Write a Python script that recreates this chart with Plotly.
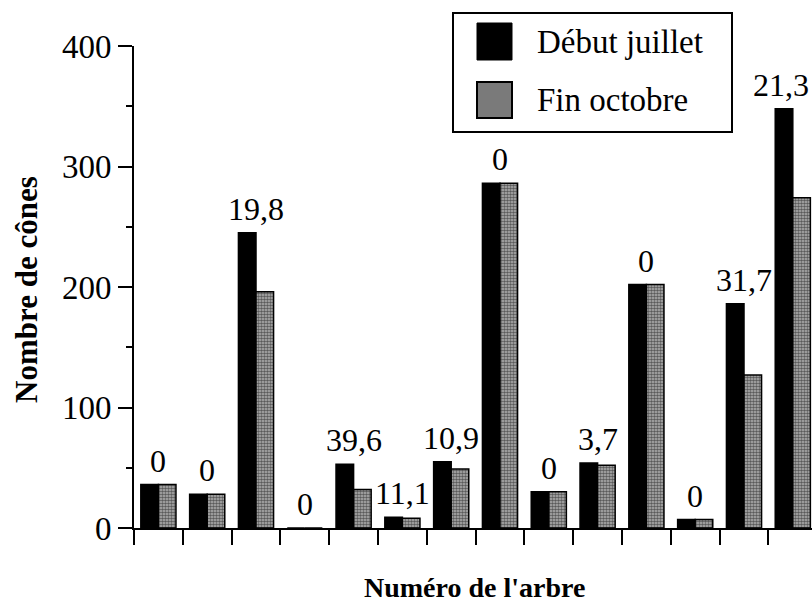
import plotly.graph_objects as go

# Cone counts per tree at two survey dates, with the % loss written above each pair
arbres = list(range(14))
debut_juillet = [36, 28, 245, 0, 53, 9, 55, 286, 30, 54, 202, 7, 186, 348]
fin_octobre = [36, 28, 196, 0, 32, 8, 49, 286, 30, 52, 202, 7, 127, 274]
pertes = ["0", "0", "19,8", "0", "39,6", "11,1", "10,9", "0", "0", "3,7", "0", "0", "31,7", "21,3"]
y_ticks = [0, 100, 200, 300, 400]

W, H = 812, 606
ML, MR, MT, MB = 134, 0, 46, 78
PW, PH = W - ML - MR, H - MT - MB
FONT = "Liberation Serif"


def px_x(p):
    return (p - ML) / PW


def px_y(p):
    return (H - MB - p) / PH


fig = go.Figure()
fig.add_trace(go.Bar(
    x=arbres, y=debut_juillet, name="Début juillet",
    marker=dict(color="black", line=dict(color="black", width=1.5)),
    showlegend=False,
))
fig.add_trace(go.Bar(
    x=arbres, y=fin_octobre, name="Fin octobre",
    marker=dict(
        color="#b4b4b4",
        line=dict(color="black", width=1.5),
        pattern=dict(shape=".", fgcolor="black", bgcolor="#b4b4b4", size=3, solidity=0.55),
    ),
    showlegend=False,
))

# Loss percentages above each pair of bars (the last one nudged inside the frame)
for x, a, b, t in zip(arbres, debut_juillet, fin_octobre, pertes):
    fig.add_annotation(
        x=x, y=max(a, b), text=t, showarrow=False,
        yanchor="bottom", yshift=4, xshift=-12 if x == arbres[-1] else 0,
        font=dict(family=FONT, size=32, color="black"),
    )

# Hand-drawn legend box
fig.add_shape(type="rect", xref="paper", yref="paper",
              x0=px_x(453), x1=px_x(732), y0=px_y(132), y1=px_y(13),
              line=dict(color="black", width=2), fillcolor="white", layer="above")
fig.add_shape(type="rect", xref="paper", yref="paper",
              x0=px_x(477), x1=px_x(512), y0=px_y(60), y1=px_y(23),
              line=dict(color="black", width=1), fillcolor="black", layer="above")
fig.add_shape(type="rect", xref="paper", yref="paper",
              x0=px_x(477), x1=px_x(512), y0=px_y(118), y1=px_y(82),
              line=dict(color="black", width=2), fillcolor="#7a7a7a", layer="above")
for label, cy in (("Début juillet", 42), ("Fin octobre", 100)):
    fig.add_annotation(
        xref="paper", yref="paper", x=px_x(535), y=px_y(cy),
        text=label, showarrow=False, xanchor="left", yanchor="middle",
        font=dict(family=FONT, size=33, color="black"),
    )

# Axis titles
fig.add_annotation(
    xref="paper", yref="paper", x=px_x(474), y=px_y(587),
    text="<b>Numéro de l'arbre</b>", showarrow=False,
    xanchor="center", yanchor="middle",
    font=dict(family=FONT, size=28, color="black"),
)
fig.add_annotation(
    xref="paper", yref="paper", x=px_x(26), y=px_y(290),
    text="<b>Nombre de cônes</b>", showarrow=False, textangle=-90,
    xanchor="center", yanchor="middle",
    font=dict(family=FONT, size=31, color="black"),
)

fig.update_layout(
    width=W, height=H,
    margin=dict(l=ML, r=MR, t=MT, b=MB, pad=0),
    paper_bgcolor="white", plot_bgcolor="white",
    barmode="group", bargap=0.28, bargroupgap=0,
    font=dict(family=FONT, color="black"),
)
fig.update_xaxes(
    range=[-0.5, -0.5 + PW / 48.8],
    tickvals=[k - 0.5 for k in arbres], ticktext=[""] * len(arbres),
    ticks="outside", ticklen=15, tickwidth=2, tickcolor="black",
    showline=True, linewidth=2, linecolor="black",
    showgrid=False, zeroline=False,
)
fig.update_yaxes(
    range=[0, 400], tickvals=y_ticks,
    ticks="outside", ticklen=14, tickwidth=2, tickcolor="black",
    minor=dict(dtick=50, ticks="outside", ticklen=6, tickwidth=2, tickcolor="black"),
    tickfont=dict(family=FONT, size=33, color="black"),
    showline=True, linewidth=2, linecolor="black",
    showgrid=False, zeroline=False,
)

fig.write_html("out.html")
